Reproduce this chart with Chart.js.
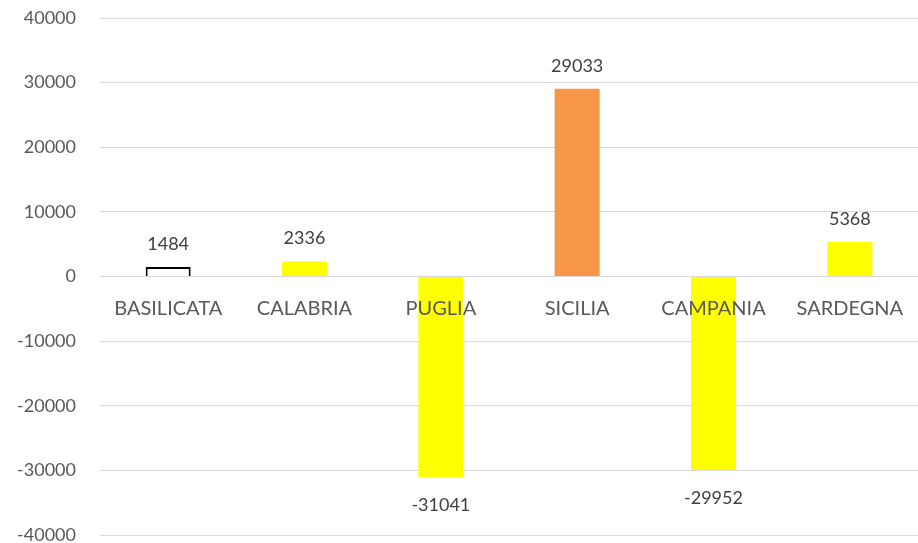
<!DOCTYPE html>
<html>
<head>
<meta charset="utf-8">
<script src="https://cdn.jsdelivr.net/npm/chart.js@4/dist/chart.umd.min.js"></script>
<style>
html,body{margin:0;padding:0;background:#fff;}
#wrap{width:918px;height:543px;position:relative;}
</style>
</head>
<body>
<div id="wrap"><canvas id="c" width="918" height="543"></canvas></div>
<script>
const categories = ["BASILICATA", "CALABRIA", "PUGLIA", "SICILIA", "CAMPANIA", "SARDEGNA"];
const values = [1484, 2336, -31041, 29033, -29952, 5368];
const barColors = ["#FFFFFF", "#FFFF00", "#FFFF00", "#F79646", "#FFFF00", "#FFFF00"];
const borderColors = ["#000000", "#FFFF00", "#FFFF00", "#F79646", "#FFFF00", "#FFFF00"];
const borderWidths = [2, 0, 0, 0, 0, 0];

const FONT = "Lato, 'Open Sans', sans-serif";
const AXIS_TEXT = "#595959";
const LABEL_TEXT = "#404040";

const valueLabels = {
  id: 'valueLabels',
  afterDatasetsDraw(chart) {
    const ctx = chart.ctx;
    const meta = chart.getDatasetMeta(0);
    ctx.save();
    ctx.font = "18px " + FONT;
    ctx.fillStyle = LABEL_TEXT;
    ctx.textAlign = "center";
    ctx.textBaseline = "middle";
    meta.data.forEach((bar, i) => {
      const v = chart.data.datasets[0].data[i];
      const y = v >= 0 ? bar.y - 23 : bar.y + 28;
      ctx.fillText(String(v), bar.x, y);
    });
    ctx.restore();
  }
};

new Chart(document.getElementById('c'), {
  type: 'bar',
  data: {
    labels: categories,
    datasets: [{
      data: values,
      backgroundColor: barColors,
      borderColor: borderColors,
      borderWidth: borderWidths,
      borderSkipped: 'start',
      barPercentage: 0.33,
      categoryPercentage: 1.0
    }]
  },
  options: {
    responsive: false,
    animation: false,
    layout: { padding: { top: 18, right: 0, bottom: 8, left: 0 } },
    plugins: { legend: { display: false }, tooltip: { enabled: false } },
    scales: {
      x: {
        position: { y: 0 },
        afterFit(scale) { scale.height = 0; },
        grid: { display: true, drawOnChartArea: false, drawTicks: true, tickLength: 19, tickColor: 'rgba(0,0,0,0)', color: 'rgba(0,0,0,0)' },
        border: { display: false },
        ticks: { z: 1, color: AXIS_TEXT, font: { family: FONT, size: 20 }, padding: 1, maxRotation: 0, autoSkip: false }
      },
      y: {
        min: -40000, max: 40000,
        afterFit(scale) { scale.width = 100; },
        grid: { color: "#D9D9D9", lineWidth: 1, drawTicks: true, tickLength: 24, tickColor: 'rgba(0,0,0,0)' },
        border: { display: false },
        ticks: { stepSize: 10000, color: AXIS_TEXT, font: { family: FONT, size: 18, lineHeight: 0.8 }, padding: 0,
                 callback: (v) => String(v) }
      }
    }
  },
  plugins: [valueLabels]
});
</script>
</body>
</html>
